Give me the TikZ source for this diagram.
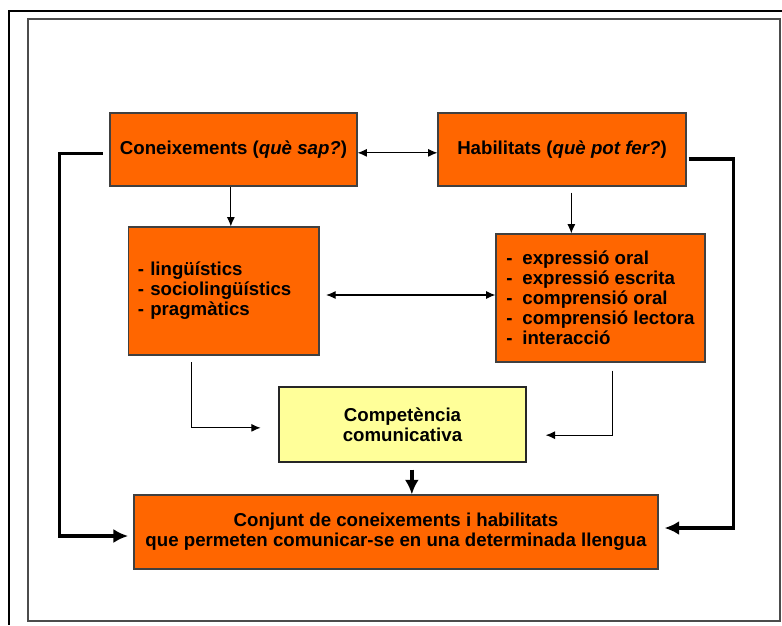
\documentclass[tikz,border=0pt]{standalone}
\usepackage{fontspec}
\setmainfont{Liberation Sans}
\usetikzlibrary{positioning,arrows.meta}
\definecolor{boxorange}{HTML}{FF6600}
\definecolor{boxyellow}{HTML}{FFFF99}
\tikzset{
  module/.style={draw=black!75, line width=0.8pt, align=center, font=\bfseries\fontsize{14}{15}\selectfont, inner sep=0pt},
  orange module/.style={module, fill=boxorange},
  yellow module/.style={module, fill=boxyellow, draw=black!85, line width=1.5pt},
  list module/.style={orange module, align=left, inner xsep=7pt},
  thin arrow/.style={line width=0.8pt, -{Latex[length=7pt,width=6pt]}},
  thin biarrow/.style={line width=0.8pt, {Latex[length=7pt,width=6pt]}-{Latex[length=7pt,width=6pt]}},
  thick arrow/.style={line width=2.6pt, -{Latex[length=11pt,width=10.5pt]}},
}

\begin{document}
\begin{tikzpicture}[x=0.75pt,y=-0.75pt]
\useasboundingbox (0,0) rectangle (782,625);
%the frames
\draw[line width=2.2pt] (782,11) -- (9,11) -- (9,625);
\draw[draw=black!70, line width=0.9pt] (28,19) rectangle (780,621);
%the nodes
\node [orange module, minimum width=185.25pt, minimum height=54.75pt] (kA) at (233.5,149.5) {Coneixements (\textit{què sap?})};
\node [orange module, minimum width=186pt, minimum height=54.75pt] (kB) at (562,149.5) {Habilitats (\textit{què pot fer?})};
\node [list module, text width=128.9pt, minimum height=96pt] (kC) at (223.75,291) {- lingüístics\\- sociolingüístics\\- pragmàtics};
\node [orange module, align=left, minimum width=156.75pt, minimum height=96pt] (kD) at (600.5,298) {\makebox[12pt][l]{-}expressió oral\\\makebox[12pt][l]{-}expressió escrita\\\makebox[12pt][l]{-}comprensió oral\\\makebox[12pt][l]{-}comprensió lectora\\\makebox[12pt][l]{-}interacció};
\node [yellow module, minimum width=185.25pt, minimum height=56.25pt] (kE) at (402.5,424.5) {Competència\\comunicativa};
\node [orange module, minimum width=393pt, minimum height=55.5pt] (kF) at (396,532) {Conjunt de coneixements i habilitats\\que permeten comunicar-se en una determinada llengua};
%drawings of vectors
\draw[thin biarrow] ([yshift=-2.5pt]kA.east) -- ([yshift=-2.5pt]kB.west);
\draw[thin arrow] ([xshift=-2pt]kA.south) -- ([xshift=-2pt]kA.south |- kC.north);
\draw[thin arrow, shorten <=4.5pt] ([xshift=7pt]kB.south) -- ([xshift=7pt]kB.south |- kD.north);
\draw[thin biarrow, shorten <=5pt] ([yshift=-3pt]kC.east) -- ([yshift=-3pt]kC.east -| kD.west);
\draw[thin arrow, shorten <=5pt, shorten >=13pt] ([xshift=-24pt]kC.south) |- ([yshift=-2.5pt]kE.west);
\draw[thin arrow, shorten <=6pt, shorten >=14pt] ([xshift=9pt]kD.south) |- ([yshift=-8pt]kE.east);
\draw[thick arrow, shorten <=5pt] ([xshift=7pt]kE.south) -- ([xshift=7pt]kE.south |- kF.north);
\draw[thick arrow, shorten <=5pt, shorten >=4pt] ([yshift=-3pt]kA.west) -- ++(-50,0) |- ([yshift=-3pt]kF.west);
\draw[thick arrow, shorten <=1.5pt, shorten >=4.5pt] ([yshift=-7pt]kB.east) -- ++(47,0) |- ([yshift=3pt]kF.east);
\end{tikzpicture}
\end{document}
